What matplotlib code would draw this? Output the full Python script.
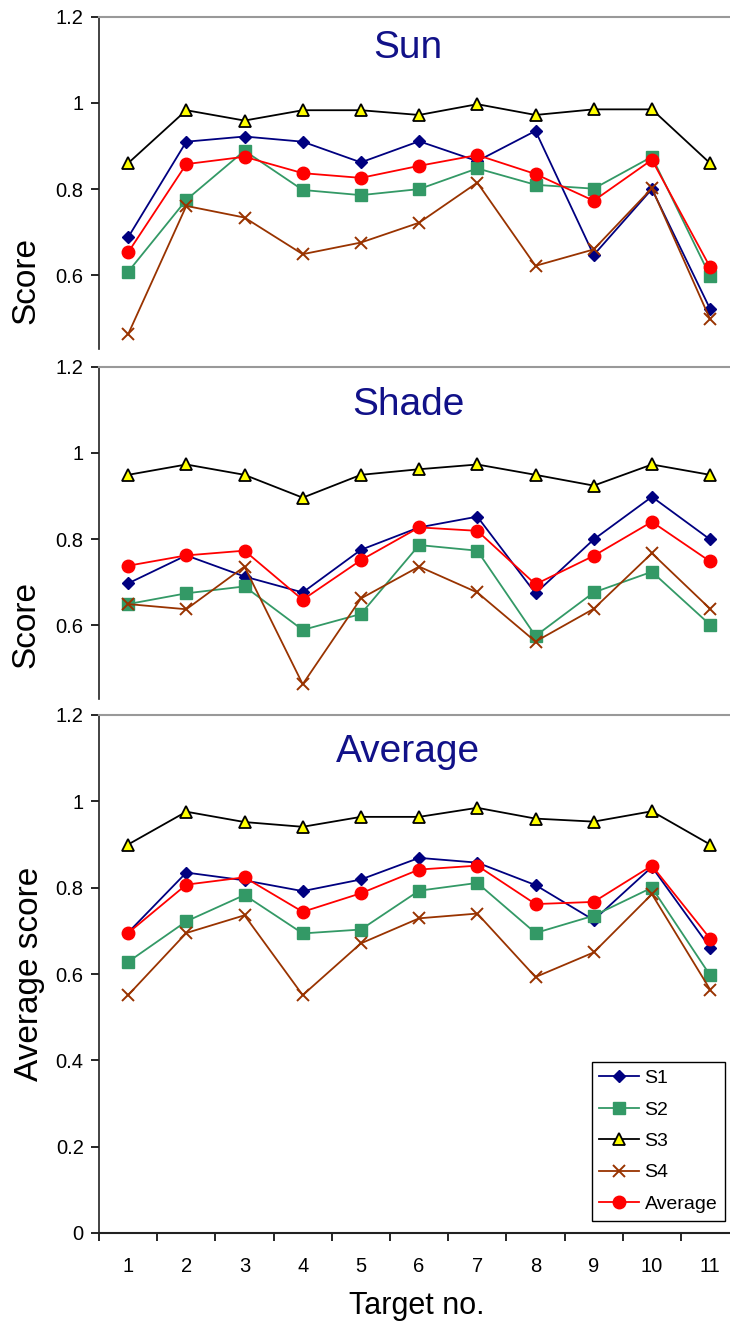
import numpy as np
import matplotlib
matplotlib.use('Agg')
import matplotlib.pyplot as plt
from matplotlib.ticker import FixedLocator, NullFormatter, FuncFormatter

plt.rcParams['font.family'] = ['Liberation Sans', 'DejaVu Sans']

targets = list(range(1, 12))
series_names = ['S1', 'S2', 'S3', 'S4', 'Average']

# Sun
sun_s1 = [0.688, 0.910, 0.922, 0.910, 0.862, 0.911, 0.865, 0.935, 0.647, 0.800, 0.522]
sun_s2 = [0.608, 0.775, 0.889, 0.798, 0.786, 0.800, 0.848, 0.810, 0.801, 0.875, 0.598]
sun_s3 = [0.860, 0.983, 0.959, 0.983, 0.983, 0.972, 0.997, 0.972, 0.985, 0.985, 0.860]
sun_s4 = [0.463, 0.761, 0.734, 0.649, 0.676, 0.722, 0.815, 0.622, 0.660, 0.802, 0.498]
sun_avg = [0.653, 0.858, 0.875, 0.837, 0.826, 0.854, 0.879, 0.835, 0.773, 0.868, 0.619]

# Shade
shade_s1 = [0.697, 0.762, 0.713, 0.676, 0.775, 0.827, 0.852, 0.674, 0.799, 0.898, 0.799]
shade_s2 = [0.649, 0.674, 0.690, 0.589, 0.626, 0.786, 0.773, 0.575, 0.676, 0.724, 0.601]
shade_s3 = [0.949, 0.973, 0.949, 0.896, 0.949, 0.962, 0.973, 0.949, 0.924, 0.973, 0.949]
shade_s4 = [0.649, 0.637, 0.736, 0.463, 0.662, 0.736, 0.676, 0.562, 0.638, 0.767, 0.638]
shade_avg = [0.738, 0.762, 0.773, 0.659, 0.751, 0.827, 0.819, 0.695, 0.761, 0.840, 0.748]

# Average of sun and shade
avg_s1 = [0.696, 0.835, 0.817, 0.792, 0.819, 0.869, 0.858, 0.806, 0.725, 0.848, 0.661]
avg_s2 = [0.628, 0.722, 0.783, 0.694, 0.703, 0.793, 0.811, 0.695, 0.735, 0.800, 0.597]
avg_s3 = [0.900, 0.976, 0.952, 0.941, 0.964, 0.964, 0.985, 0.960, 0.953, 0.977, 0.900]
avg_s4 = [0.551, 0.695, 0.736, 0.551, 0.671, 0.729, 0.740, 0.593, 0.650, 0.785, 0.564]
avg_avg = [0.695, 0.807, 0.824, 0.744, 0.787, 0.842, 0.851, 0.762, 0.767, 0.851, 0.682]

styles = [
    dict(color='#000080', marker='D', ms=5.8, mfc='#000080', mec='#000080'),
    dict(color='#339966', marker='s', ms=8.5, mfc='#339966', mec='#339966'),
    dict(color='black', marker='^', ms=8.5, mfc='#FFFF00', mec='black', mew=1.3),
    dict(color='#993300', marker='x', ms=8.5, mew=1.4),
    dict(color='#FF0000', marker='o', ms=9, mfc='#FF0000', mec='#FF0000'),
]

W, H = 730.0, 1327.0
fig = plt.figure(figsize=(W / 100, H / 100), dpi=100)

x_left = 99 / W
x_width = 11 * 58.2 / W


def panel(top_px, bot_px, ymin, data, title, title_base_px):
    ax = fig.add_axes([x_left, 1 - bot_px / H, x_width, (bot_px - top_px) / H])
    lines = []
    for vals, st, name in zip(data, styles, series_names):
        l, = ax.plot(targets, vals, lw=1.3, label=name, **st)
        lines.append(l)
    ax.set_xlim(0.5, 11.5)
    ax.set_ylim(ymin, 1.2)
    ax.spines['right'].set_visible(False)
    ax.spines['top'].set_color('#999999')
    ax.spines['top'].set_linewidth(1.5)
    ax.spines['left'].set_color('#222222')
    ax.spines['left'].set_linewidth(1.2)
    if ymin > 0:
        ax.yaxis.set_major_locator(FixedLocator([0.6, 0.8, 1.0, 1.2]))
    else:
        ax.yaxis.set_major_locator(FixedLocator([0, 0.2, 0.4, 0.6, 0.8, 1.0, 1.2]))
    ax.yaxis.set_major_formatter(FuncFormatter(lambda v, p: '%g' % round(v, 2)))
    ax.tick_params(axis='y', direction='out', length=6, width=1.2, labelsize=14.5, pad=5)
    fig.text(408 / W, 1 - title_base_px / H, title, color='#111188', fontsize=28,
             ha='center', va='baseline')
    return ax, lines


ax1, _ = panel(16.7, 349, 0.429, [sun_s1, sun_s2, sun_s3, sun_s4, sun_avg], 'Sun', 58)
ax2, _ = panel(366.7, 699.3, 0.428, [shade_s1, shade_s2, shade_s3, shade_s4, shade_avg], 'Shade', 415)
ax3, lines = panel(715, 1233, 0.0, [avg_s1, avg_s2, avg_s3, avg_s4, avg_avg], 'Average', 762)

for ax in (ax1, ax2):
    ax.spines['bottom'].set_visible(False)
    ax.set_xticks([])

ax3.spines['bottom'].set_color('#222222')
ax3.spines['bottom'].set_linewidth(1.5)
ax3.xaxis.set_major_locator(FixedLocator(np.arange(0.5, 12, 1)))
ax3.xaxis.set_major_formatter(NullFormatter())
ax3.xaxis.set_minor_locator(FixedLocator(targets))
ax3.set_xticklabels([str(t) for t in targets], minor=True)
ax3.tick_params(axis='x', which='major', direction='out', length=6, width=1.2)
ax3.tick_params(axis='x', which='minor', length=0, labelsize=14.5, pad=17)

fig.text(26 / W, 1 - 280 / H, 'Score', rotation=90, fontsize=24, ha='center', va='center')
fig.text(26 / W, 1 - 624 / H, 'Score', rotation=90, fontsize=24, ha='center', va='center')
fig.text(30 / W, 1 - 974 / H, 'Average score', rotation=90, fontsize=24, ha='center', va='center')
fig.text(417 / W, 1 - 1306 / H, 'Target no.', fontsize=22, ha='center', va='center')

# legend box: upper left corner at (591.7, 1061.7) px
leg_x = (591.7 - 99) / (11 * 58.2)
leg_y = (1233 - 1061.7) / (1233 - 715)
leg = ax3.legend(lines, series_names, loc='upper left', bbox_to_anchor=(leg_x, leg_y),
                 borderaxespad=0, fontsize=14, handlelength=2.05, handletextpad=0.27,
                 labelspacing=0.71, borderpad=0.4, fancybox=False, framealpha=1,
                 edgecolor='black')
leg.get_frame().set_linewidth(1.0)

fig.savefig('out.png', dpi=100)
